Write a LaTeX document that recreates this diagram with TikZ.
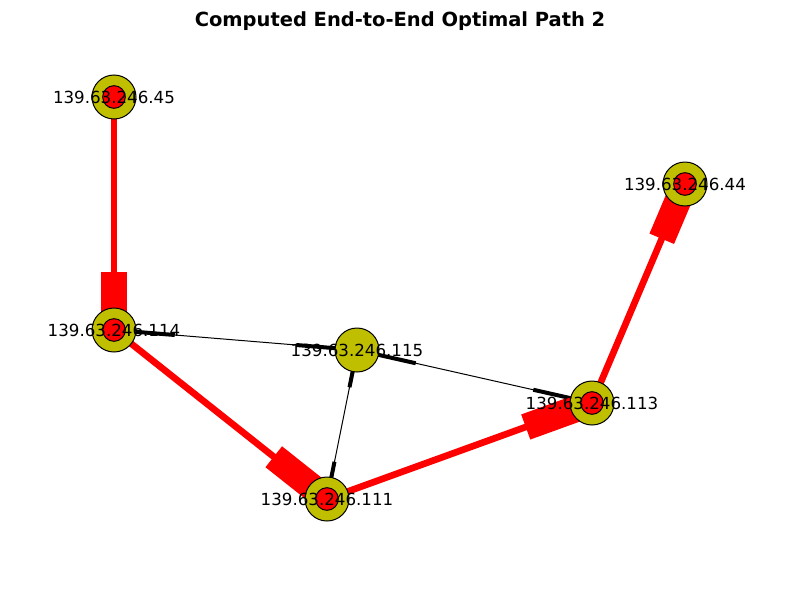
\documentclass[tikz,border=0pt]{standalone}
\usepackage{fontspec}
\setmainfont{DejaVu Sans}
\usetikzlibrary{calc}
\begin{document}
\begin{tikzpicture}[x=0.75pt,y=-0.75pt,
  thinred/.style={draw=red,line width=5pt},
  thickred/.style={draw=red,line width=20pt},
  thinblack/.style={draw=black,line width=0.75pt},
  thickblack/.style={draw=black,line width=3pt},
  outer/.style={circle,draw=black,line width=0.75pt,fill={rgb,1:red,0.75;green,0.75;blue,0},minimum size=33pt,inner sep=0pt},
  inner/.style={circle,draw=black,line width=0.75pt,fill=red,minimum size=17pt,inner sep=0pt},
  lbl/.style={font=\fontsize{12.5}{15}\selectfont,inner sep=0pt}]
\useasboundingbox (0,0) rectangle (800,600);
\coordinate (n45) at (114,97);
\coordinate (n114) at (114,330);
\coordinate (n115) at (357,350);
\coordinate (n113) at (592,403);
\coordinate (n44) at (685,184);
\coordinate (n111) at (327,499);
% black edges (both directions)
\draw[thinblack] (n114) -- (n115);
\draw[thinblack] (n115) -- (n113);
\draw[thinblack] (n115) -- (n111);
\draw[thickblack] ($(n115)!0.75!(n114)$) -- (n114);
\draw[thickblack] ($(n114)!0.75!(n115)$) -- (n115);
\draw[thickblack] ($(n113)!0.75!(n115)$) -- (n115);
\draw[thickblack] ($(n115)!0.75!(n113)$) -- (n113);
\draw[thickblack] ($(n111)!0.75!(n115)$) -- (n115);
\draw[thickblack] ($(n115)!0.75!(n111)$) -- (n111);
% red path
\draw[thinred] (n45) -- (n114);
\draw[thinred] (n114) -- (n111);
\draw[thinred] (n111) -- (n113);
\draw[thinred] (n113) -- (n44);
\draw[thickred] ($(n45)!0.75!(n114)$) -- (n114);
\draw[thickred] ($(n114)!0.75!(n111)$) -- (n111);
\draw[thickred] ($(n111)!0.75!(n113)$) -- (n113);
\draw[thickred] ($(n113)!0.75!(n44)$) -- (n44);
% nodes
\node[outer] (o45) at (n45) {};
\node[outer] (o114) at (n114) {};
\node[outer] (o115) at (n115) {};
\node[outer] (o113) at (n113) {};
\node[outer] (o44) at (n44) {};
\node[outer] (o111) at (n111) {};
\node[inner] (i45) at (n45) {};
\node[inner] (i114) at (n114) {};
\node[inner] (i113) at (n113) {};
\node[inner] (i44) at (n44) {};
\node[inner] (i111) at (n111) {};
\node[lbl] (l45) at (n45) {139.63.246.45};
\node[lbl] (l114) at (n114) {139.63.246.114};
\node[lbl] (l115) at (n115) {139.63.246.115};
\node[lbl] (l113) at (n113) {139.63.246.113};
\node[lbl] (l44) at (n44) {139.63.246.44};
\node[lbl] (l111) at (n111) {139.63.246.111};
\node[font=\fontsize{14.6}{17}\selectfont\bfseries,inner sep=0pt] (title) at (400,21) {Computed End-to-End Optimal Path 2};
\end{tikzpicture}
\end{document}
